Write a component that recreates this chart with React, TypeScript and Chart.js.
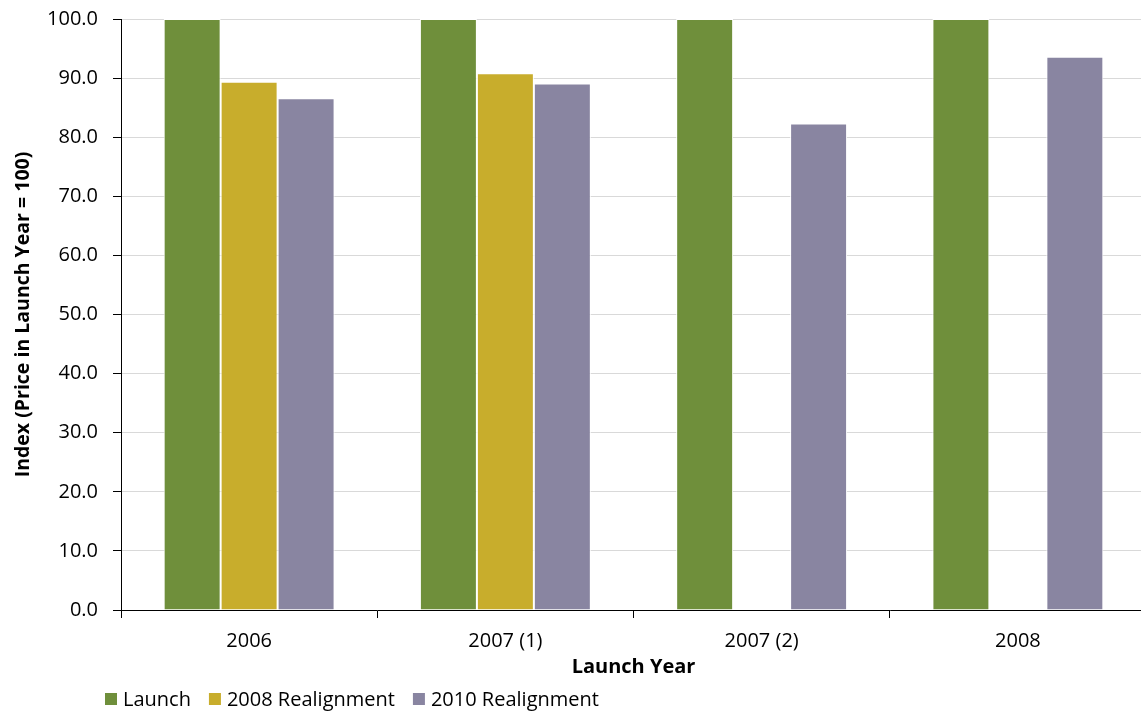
import { useEffect, useRef } from 'react';
import { Chart, registerables } from 'chart.js';

Chart.register(...registerables);

const categories = ['2006', '2007 (1)', '2007 (2)', '2008'];
const launch = [100, 100, 100, 100];
const realign2008: (number | null)[] = [89.4, 90.8, null, null];
const realign2010 = [86.6, 89.1, 82.3, 93.6];
const seriesNames = ['Launch', '2008 Realignment', '2010 Realignment'];
const seriesColors = ['#6f8f3b', '#c8ad2c', '#8985a1'];
const yMin = 0;
const yMax = 100;
const yStep = 10;
const xTitle = 'Launch Year';
const yTitle = 'Index (Price in Launch Year = 100)';

const FONT = '"Open Sans", "DejaVu Sans", sans-serif';

const legendPlugin = {
  id: 'customLegend',
  afterDraw(chart: any) {
    const ctx = chart.ctx as CanvasRenderingContext2D;
    ctx.save();
    ctx.font = `20px ${FONT}`;
    ctx.textBaseline = 'alphabetic';
    ctx.textAlign = 'left';
    let x = 105;
    const y = 706;
    chart.data.datasets.forEach((ds: any) => {
      ctx.fillStyle = ds.backgroundColor;
      ctx.fillRect(x, y - 13, 12, 12);
      x += 18;
      ctx.fillStyle = '#000';
      ctx.fillText(ds.label, x, y);
      x += ctx.measureText(ds.label).width + 18;
    });
    ctx.restore();
  },
};

export default function App() {
  const ref = useRef<HTMLCanvasElement>(null);

  useEffect(() => {
    document.body.style.margin = '0';
    const canvas = ref.current;
    if (!canvas) return;
    const chart = new Chart(canvas, {
      type: 'bar',
      data: {
        labels: categories,
        datasets: [launch, realign2008, realign2010].map((d, i) => ({
          label: seriesNames[i],
          data: d,
          backgroundColor: seriesColors[i],
          borderColor: '#ffffff',
          borderWidth: 1,
          borderSkipped: 'start',
          barPercentage: 1,
          categoryPercentage: 0.667,
        })),
      },
      options: {
        animation: false,
        responsive: false,
        devicePixelRatio: 1,
        layout: { padding: { top: 19, bottom: 29, left: 0, right: 4 } },
        plugins: {
          legend: { display: false },
          tooltip: { enabled: false },
        },
        scales: {
          x: {
            grid: {
              display: true,
              offset: true,
              drawOnChartArea: false,
              drawTicks: true,
              tickLength: 8,
              tickColor: '#000',
            },
            border: { color: '#000', width: 1 },
            ticks: {
              color: '#000',
              font: { family: FONT, size: 20 },
              padding: 11,
              maxRotation: 0,
            },
            title: {
              display: true,
              text: xTitle,
              color: '#000',
              font: { family: FONT, size: 20, weight: 'bold' },
              padding: { top: 0, bottom: 3 },
            },
            afterFit: (scale: any) => {
              scale.height = 72;
            },
          },
          y: {
            min: yMin,
            max: yMax,
            grid: {
              color: '#d9d9d9',
              lineWidth: 1,
              tickLength: 8,
              tickColor: '#000',
            },
            border: { color: '#000', width: 1 },
            ticks: {
              stepSize: yStep,
              color: '#000',
              font: { family: FONT, size: 20 },
              padding: 15,
              callback: (v: any) => Number(v).toFixed(1),
            },
            title: {
              display: true,
              text: yTitle,
              color: '#000',
              font: { family: FONT, size: 19.5, weight: 'bold' },
              padding: { top: 12, bottom: 0 },
            },
            afterFit: (scale: any) => {
              scale.width = 121;
              scale.paddingTop = 0;
              scale.paddingBottom = 0;
            },
          },
        },
      },
      plugins: [legendPlugin],
    });
    return () => chart.destroy();
  }, []);

  return (
    <div style={{ width: 1141, height: 711, overflow: 'hidden', position: 'relative', background: '#fff' }}>
      <canvas ref={ref} width={1150} height={711} style={{ display: 'block', width: 1150, height: 711 }} />
    </div>
  );
}
